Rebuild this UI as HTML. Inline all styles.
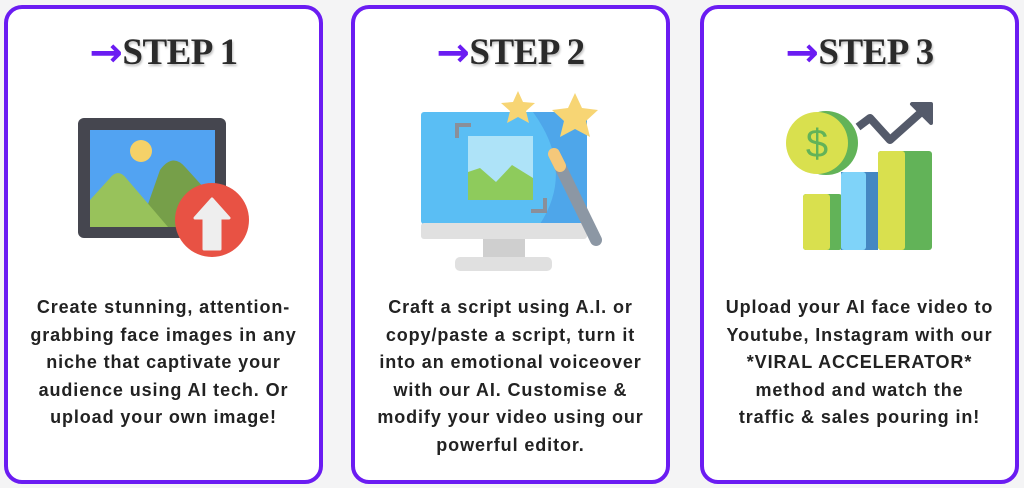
<!DOCTYPE html>
<html><head><style>
body{margin:0;width:1024px;height:488px;background:#f4f4f5;position:relative;overflow:hidden;font-family:"Liberation Sans",sans-serif}
.card{position:absolute;top:5px;width:311px;height:471px;border:4px solid #6b1cf2;border-radius:18px;background:#fff}
.t{position:absolute;top:19px;left:0;right:0;text-align:center;font-family:"Liberation Serif",serif;font-weight:bold;font-size:37px;color:#2b2b2b;text-shadow:1px 2px 2px rgba(0,0,0,.25);letter-spacing:-0.5px}
.t span{color:#6b1cf2;font-family:"DejaVu Sans",sans-serif;font-weight:bold;font-size:40px;text-shadow:none;position:relative;top:2px}
.p{position:absolute;top:285px;left:0;right:0;text-align:center;font-weight:bold;font-size:18px;line-height:27.5px;color:#222;letter-spacing:0.9px;white-space:nowrap}
svg{position:absolute;left:0;top:0}
</style></head><body>
<div class="card" style="left:4px">
<div class="t"><span>→</span>STEP 1</div>
<div class="p">Create stunning, attention-<br>grabbing face images in any<br>niche that captivate your<br>audience using AI tech. Or<br>upload your own image!</div>
</div>
<div class="card" style="left:351px">
<div class="t"><span>→</span>STEP 2</div>
<div class="p">Craft a script using A.I. or<br>copy/paste a script, turn it<br>into an emotional voiceover<br>with our AI. Customise &amp;<br>modify your video using our<br>powerful editor.</div>
</div>
<div class="card" style="left:700px">
<div class="t"><span>→</span>STEP 3</div>
<div class="p">Upload your AI face video to<br>Youtube, Instagram with our<br>*VIRAL ACCELERATOR*<br>method and watch the<br>traffic &amp; sales pouring in!</div>
</div>
<svg width="1024" height="488">
<rect x="78" y="118" width="148" height="120" rx="6" fill="#45464f"/>
<rect x="90" y="130" width="125" height="97" fill="#52a3f2"/>
<circle cx="141" cy="151" r="11" fill="#f5d168"/>
<path d="M140 227 L160 170 Q173 152 186 168 L215 200 L215 227Z" fill="#769f49"/>
<path d="M90 227 L90 200 L110 178 Q118 168 126 178 L168 227Z" fill="#98c25b"/>
<circle cx="212" cy="220" r="37" fill="#e85244"/>
<path d="M212 199 L229 218 L220 218 L220 249 L204 249 L204 218 L195 218Z" fill="#eee" stroke="#eee" stroke-width="3" stroke-linejoin="round"/>
<rect x="421" y="112" width="166" height="112" rx="3" fill="#5abef4"/>
<path d="M533 112 L587 112 L587 224 L540 224 Q575 170 533 112Z" fill="#4ea6ea"/>
<rect x="421" y="223" width="166" height="16" rx="3" fill="#e0e0e0"/>
<rect x="483" y="239" width="42" height="19" fill="#cfcfcf"/>
<rect x="455" y="257" width="97" height="14" rx="5" fill="#e0e0e0"/>
<rect x="468" y="136" width="65" height="64" fill="#aee3f8"/>
<path d="M468 200 L468 172 L480 168 L496 182 L512 165 L533 178 L533 200Z" fill="#8ecb5c"/>
<path d="M457 138 V125 H471 M545 198 V211 H531" stroke="#8a8f99" stroke-width="4" fill="none"/>
<line x1="556" y1="158" x2="596" y2="240" stroke="#8c97a4" stroke-width="12" stroke-linecap="round"/>
<line x1="554" y1="154" x2="560" y2="166" stroke="#f5c87a" stroke-width="12" stroke-linecap="round"/>
<polygon points="518,91 523,102 535,103 526,111 529,123 518,117 507,123 510,111 501,103 513,102" fill="#f7d574"/>
<polygon points="575,93 582,108 598,110 586,121 590,137 575,129 560,137 564,121 552,110 568,108" fill="#f7d574"/>
<polyline points="858,127 870,118 890,140 927,107" stroke="#545a6a" stroke-width="8" fill="none" stroke-linejoin="round"/>
<polygon points="912,104 931,104 931,123" fill="#545a6a" stroke="#545a6a" stroke-width="4" stroke-linejoin="round"/>
<rect x="803" y="194" width="39" height="56" rx="3" fill="#62b358"/>
<rect x="803" y="194" width="27" height="56" rx="3" fill="#d9e04e"/>
<rect x="841" y="172" width="37" height="78" fill="#4487c2"/>
<rect x="841" y="172" width="25" height="78" rx="3" fill="#7fd3f9"/>
<rect x="878" y="151" width="54" height="99" rx="3" fill="#62b358"/>
<rect x="878" y="151" width="27" height="99" rx="3" fill="#d9e04e"/>
<circle cx="826" cy="143" r="32" fill="#62b358"/>
<circle cx="817" cy="143" r="31" fill="#d9e04e"/>
<text x="817" y="157" text-anchor="middle" font-family="Liberation Sans" font-size="40" fill="#62b358">$</text>
</svg>
</body></html>
